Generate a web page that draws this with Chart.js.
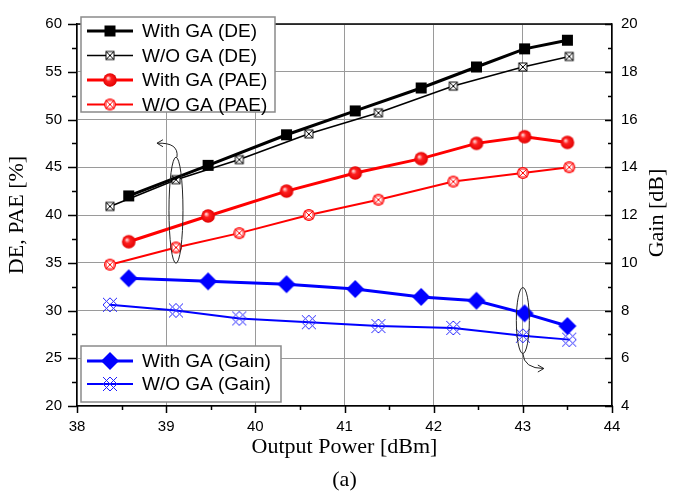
<!DOCTYPE html>
<html>
<head>
<meta charset="utf-8">
<script src="https://cdn.jsdelivr.net/npm/chart.js@4.4.0/dist/chart.umd.min.js"></script>
<style>
  html, body { margin: 0; padding: 0; background: #fff; }
  #wrap { width: 682px; height: 497px; }
</style>
</head>
<body>
<div id="wrap"><canvas id="gaChart" width="682" height="497"></canvas></div>
<script>
// ── Data ──
const powerWithGA    = [38.58, 39.47, 40.35, 41.12, 41.86, 42.48, 43.02, 43.50];
const powerWithoutGA = [38.37, 39.11, 39.82, 40.60, 41.38, 42.22, 43.00, 43.52];
const deWithGA       = [42.0, 45.2, 48.4, 50.9, 53.3, 55.5, 57.4, 58.3];
const deWithoutGA    = [40.9, 43.7, 45.8, 48.5, 50.7, 53.5, 55.5, 56.6];
const paeWithGA      = [37.2, 39.9, 42.5, 44.4, 45.9, 47.5, 48.2, 47.6];
const paeWithoutGA   = [34.8, 36.6, 38.1, 40.0, 41.6, 43.5, 44.4, 45.0];
const gainWithGA     = [9.35, 9.22, 9.10, 8.90, 8.57, 8.41, 7.88, 7.35];
const gainWithoutGA  = [8.24, 8.00, 7.67, 7.51, 7.35, 7.27, 6.94, 6.78];

const seriesLabels = ['With GA (DE)', 'W/O GA (DE)', 'With GA (PAE)', 'W/O GA (PAE)', 'With GA (Gain)', 'W/O GA (Gain)'];
const xTicks = [38, 39, 40, 41, 42, 43, 44];

const sansFont  = '"Liberation Sans", Arial, sans-serif';
const serifFont = '"Liberation Serif", "Times New Roman", serif';

// ── Marker images ──
function makeMarker(size, draw){
  const c = document.createElement('canvas');
  c.width = c.height = size;
  const g = c.getContext('2d');
  g.translate(size/2, size/2);
  draw(g);
  return c;
}

const mkSquare = makeMarker(13, g => { g.fillStyle = '#000'; g.fillRect(-5.5,-5.5,11,11); });
const mkSquareX = makeMarker(12, g => {
  g.fillStyle = '#fff'; g.fillRect(-4,-4,8,8);
  g.strokeStyle = '#000'; g.lineWidth = 1;
  g.strokeRect(-4,-4,8,8);
  g.beginPath(); g.moveTo(-4,-4); g.lineTo(4,4); g.moveTo(4,-4); g.lineTo(-4,4); g.stroke();
});
const mkBall = makeMarker(16, g => {
  const grd = g.createRadialGradient(-2,-2,0.5,0,0,7);
  grd.addColorStop(0,'#ffd0d0'); grd.addColorStop(0.35,'#ff2020'); grd.addColorStop(1,'#e00000');
  g.fillStyle = grd;
  g.beginPath(); g.arc(0,0,6.8,0,Math.PI*2); g.fill();
});
const mkCircleX = makeMarker(14, g => {
  g.fillStyle = '#fff';
  g.beginPath(); g.arc(0,0,5.5,0,Math.PI*2); g.fill();
  g.strokeStyle = '#f00'; g.lineWidth = 1;
  g.beginPath(); g.arc(0,0,5.5,0,Math.PI*2); g.stroke();
  g.strokeRect(-4,-4,8,8);
  g.beginPath(); g.moveTo(-4,-4); g.lineTo(4,4); g.moveTo(4,-4); g.lineTo(-4,4); g.stroke();
});
const mkDiamond = makeMarker(20, g => {
  g.fillStyle = '#0000ff';
  g.beginPath(); g.moveTo(0,-9); g.lineTo(9,0); g.lineTo(0,9); g.lineTo(-9,0); g.closePath(); g.fill();
});
const mkLattice = makeMarker(18, g => {
  g.strokeStyle = '#2020ff'; g.lineWidth = 1;
  g.beginPath();
  g.moveTo(-7,-7); g.lineTo(7,7); g.moveTo(7,-7); g.lineTo(-7,7);
  g.moveTo(0,-7); g.lineTo(7,0); g.lineTo(0,7); g.lineTo(-7,0); g.closePath();
  g.stroke();
});

const toPoints = (xs, ys) => xs.map((x, i) => ({ x, y: ys[i] }));

const datasets = [
  { label: seriesLabels[0], data: toPoints(powerWithGA, deWithGA),       yAxisID: 'y',  borderColor: '#000',    borderWidth: 3,   pointStyle: mkSquare },
  { label: seriesLabels[1], data: toPoints(powerWithoutGA, deWithoutGA), yAxisID: 'y',  borderColor: '#000',    borderWidth: 1.6, pointStyle: mkSquareX },
  { label: seriesLabels[2], data: toPoints(powerWithGA, paeWithGA),      yAxisID: 'y',  borderColor: '#ff0000', borderWidth: 3,   pointStyle: mkBall },
  { label: seriesLabels[3], data: toPoints(powerWithoutGA, paeWithoutGA),yAxisID: 'y',  borderColor: '#ff0000', borderWidth: 2,   pointStyle: mkCircleX },
  { label: seriesLabels[4], data: toPoints(powerWithGA, gainWithGA),     yAxisID: 'y1', borderColor: '#0000ff', borderWidth: 3,   pointStyle: mkDiamond },
  { label: seriesLabels[5], data: toPoints(powerWithoutGA, gainWithoutGA),yAxisID: 'y1', borderColor: '#0000ff', borderWidth: 2,  pointStyle: mkLattice }
];
datasets.forEach(d => { d.fill = false; d.tension = 0; d.pointRadius = 6; });

// ── Decorations: minor ticks, top border, annotations, legends, right title ──
function drawLegend(ctx, box, items){
  ctx.save();
  ctx.fillStyle = '#fff';
  ctx.fillRect(box.x, box.y, box.w, box.h);
  ctx.strokeStyle = '#8a8a8a'; ctx.lineWidth = 1.5;
  ctx.strokeRect(box.x, box.y, box.w, box.h);
  items.forEach((d, i) => {
    const y = box.y + box.first + i * box.step;
    ctx.strokeStyle = d.borderColor; ctx.lineWidth = d.borderWidth;
    ctx.beginPath(); ctx.moveTo(box.x + 6, y); ctx.lineTo(box.x + 52, y); ctx.stroke();
    const img = d.pointStyle;
    ctx.drawImage(img, box.x + 29 - img.width/2, y - img.height/2);
    ctx.fillStyle = '#000';
    ctx.font = '19px ' + sansFont;
    ctx.textBaseline = 'middle'; ctx.textAlign = 'left';
    ctx.fillText(d.label, box.x + 61, y + 1);
  });
  ctx.restore();
}

function drawBracket(ctx, cx, cy, rx, ry, path){
  ctx.save();
  ctx.strokeStyle = '#222'; ctx.lineWidth = 1;
  ctx.beginPath(); ctx.ellipse(cx, cy, rx, ry, 0, 0, Math.PI*2); ctx.stroke();
  ctx.beginPath();
  ctx.moveTo(path[0], path[1]);
  ctx.quadraticCurveTo(path[2], path[3], path[4], path[5]);
  ctx.stroke();
  // open arrow head
  const dir = path[6];
  ctx.beginPath();
  ctx.moveTo(path[4] - dir*6, path[5] - 3.5);
  ctx.lineTo(path[4], path[5]);
  ctx.lineTo(path[4] - dir*6, path[5] + 3.5);
  ctx.stroke();
  ctx.restore();
}

const decorPlugin = {
  id: 'decor',
  afterDraw(chart){
    const { ctx, chartArea: a, scales: { x, y, y1 } } = chart;
    ctx.save();
    ctx.strokeStyle = '#000'; ctx.lineWidth = 1.5;
    // top border
    ctx.beginPath(); ctx.moveTo(a.left, a.top); ctx.lineTo(a.right, a.top); ctx.stroke();
    ctx.beginPath();
    // x ticks (outward)
    for (let v = 38; v <= 44.001; v += 0.5){
      const px = Math.round(x.getPixelForValue(v)) + 0.5;
      const len = Number.isInteger(v) ? 7 : 4;
      ctx.moveTo(px, a.bottom); ctx.lineTo(px, a.bottom + len);
    }
    // left ticks (outward)
    for (let v = 20; v <= 60.001; v += 2.5){
      const py = Math.round(y.getPixelForValue(v)) + 0.5;
      const len = v % 5 === 0 ? 9 : 5;
      ctx.moveTo(a.left, py); ctx.lineTo(a.left - len, py);
    }
    // right ticks (inward)
    for (let v = 4; v <= 20.001; v += 1){
      const py = Math.round(y1.getPixelForValue(v)) + 0.5;
      const len = v % 2 === 0 ? 7 : 4;
      ctx.moveTo(a.right, py); ctx.lineTo(a.right - len, py);
    }
    ctx.stroke();
    ctx.restore();

    // annotation: DE/PAE -> left axis
    const e1x = x.getPixelForValue(39.11), e1y = y.getPixelForValue(40.5);
    drawBracket(ctx, e1x, e1y, 7, 53, [e1x + 1, e1y - 53, e1x + 3, e1y - 68, e1x - 19, e1y - 67, -1]);
    // annotation: Gain -> right axis
    const e2x = x.getPixelForValue(43.0), e2y = y1.getPixelForValue(7.58);
    drawBracket(ctx, e2x, e2y, 6.5, 33, [e2x, e2y + 33, e2x + 1, e2y + 48, e2x + 21, e2y + 48, 1]);

    // legends
    const ds = chart.data.datasets;
    drawLegend(ctx, { x: 81, y: 17, w: 194, h: 95, first: 14, step: 24.5 }, ds.slice(0, 4));
    drawLegend(ctx, { x: 81, y: 346, w: 200, h: 56, first: 15, step: 23 }, ds.slice(4));

    // right axis title (reads bottom to top)
    ctx.save();
    ctx.translate(657, (a.top + a.bottom) / 2 - 2);
    ctx.rotate(-Math.PI/2);
    ctx.fillStyle = '#000';
    ctx.font = '22px ' + serifFont;
    ctx.textAlign = 'center'; ctx.textBaseline = 'middle';
    ctx.fillText('Gain [dB]', 0, 0);
    ctx.restore();
  }
};

const tickFont = { family: sansFont, size: 15 };
const gridStyle = { color: '#9a9a9a', lineWidth: 1, drawTicks: false };

new Chart(document.getElementById('gaChart'), {
  type: 'line',
  data: { datasets },
  options: {
    responsive: false,
    animation: false,
    events: [],
    layout: { padding: { top: 13, left: 0, right: 0, bottom: 0 } },
    plugins: { legend: { display: false }, tooltip: { enabled: false } },
    scales: {
      x: {
        type: 'linear', min: 38, max: 44,
        afterBuildTicks: s => { s.ticks = xTicks.map(v => ({ value: v })); },
        afterFit: s => { s.height = 91; },
        ticks: { color: '#000', font: tickFont, padding: 12 },
        grid: gridStyle,
        border: { color: '#000', width: 1.5 },
        title: {
          display: true, text: ['Output Power [dBm]', '(a)'], color: '#000',
          font: { family: serifFont, size: 22, lineHeight: 1.5 }, padding: { top: 0, bottom: 0 }
        }
      },
      y: {
        type: 'linear', position: 'left', min: 20, max: 60,
        afterFit: s => { s.width = 77; },
        ticks: { stepSize: 5, color: '#000', font: tickFont, padding: 15 },
        grid: gridStyle,
        border: { color: '#000', width: 1.5 },
        title: {
          display: true, text: 'DE, PAE [%]', color: '#000',
          font: { family: serifFont, size: 22 }, padding: { top: 4, bottom: 0 }
        }
      },
      y1: {
        type: 'linear', position: 'right', min: 4, max: 20,
        afterFit: s => { s.width = 70; },
        ticks: { stepSize: 2, color: '#000', font: tickFont, padding: 9 },
        grid: { drawOnChartArea: false, drawTicks: false },
        border: { color: '#000', width: 1.5 }
      }
    }
  },
  plugins: [decorPlugin]
});
</script>
</body>
</html>
